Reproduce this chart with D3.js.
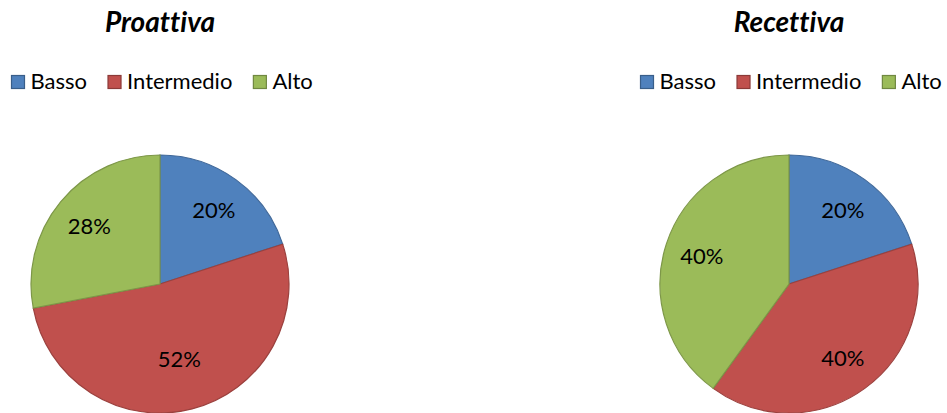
<!DOCTYPE html>
<html>
<head>
<meta charset="utf-8">
<script src="https://cdn.jsdelivr.net/npm/d3@7"></script>
<style>
  body { margin: 0; background: #fff; }
  text { font-family: Lato, "Open Sans", sans-serif; fill: #000; font-variant-ligatures: none; }
</style>
</head>
<body>
<div id="chart"></div>
<script>
var width = 947, height = 413;

var categories = ["Basso", "Intermedio", "Alto"];
var titles = ["Proattiva", "Recettiva"];
var proattiva = [20, 52, 28];
var recettiva = [20, 40, 40];
var colors = ["#4F81BD", "#C0504D", "#9BBB59"];

var panels = [
  { title: titles[0], values: proattiva, dx: 0 },
  { title: titles[1], values: recettiva, dx: 629 }
];

var radius = 129,
    cx = 160,
    cy = 284;

var color = d3.scaleOrdinal().domain(categories).range(colors);

var svg = d3.select("#chart").append("svg")
    .attr("width", width)
    .attr("height", height);

var pie = d3.pie().sort(null).value(function(d) { return d.value; });
var arc = d3.arc().innerRadius(0).outerRadius(radius);

panels.forEach(function(p) {
  var g = svg.append("g").attr("transform", "translate(" + p.dx + ",0)");

  g.append("text")
    .attr("x", cx)
    .attr("y", 32)
    .attr("text-anchor", "middle")
    .attr("font-size", 28)
    .attr("font-weight", "bold")
    .attr("font-style", "italic")
    .text(p.title);

  // legend, laid out by measured text width
  var lx = 11.5;
  categories.forEach(function(c) {
    var item = g.append("g").attr("transform", "translate(" + lx + ",75.5)");
    item.append("rect")
      .attr("width", 13).attr("height", 13)
      .attr("fill", color(c))
      .attr("stroke", d3.color(color(c)).darker(0.9))
      .attr("stroke-width", 1.2);
    var t = item.append("text")
      .attr("x", 19)
      .attr("y", 13.5)
      .attr("font-size", 22)
      .text(c);
    lx += 19 + t.node().getComputedTextLength() + 21;
  });

  var data = categories.map(function(c, i) { return { name: c, value: p.values[i] }; });
  var slices = g.append("g").attr("transform", "translate(" + cx + "," + cy + ")")
    .selectAll("g")
    .data(pie(data))
    .enter().append("g");

  slices.append("path")
    .attr("d", arc)
    .attr("fill", function(d) { return color(d.data.name); })
    .attr("stroke", function(d) { return d3.color(color(d.data.name)).darker(0.6); })
    .attr("stroke-width", 1.2);

  // bigger slices pull their label a little closer to the centre
  slices.append("text")
    .attr("transform", function(d) {
      var span = d.endAngle - d.startAngle;
      var r = span > Math.PI ? radius * 0.6 : radius * 0.71;
      var a = (d.startAngle + d.endAngle) / 2;
      return "translate(" + (Math.sin(a) * r) + "," + (-Math.cos(a) * r) + ")";
    })
    .attr("text-anchor", "middle")
    .attr("dy", "0.36em")
    .attr("font-size", 22)
    .text(function(d) { return d.data.value + "%"; });
});
</script>
</body>
</html>
